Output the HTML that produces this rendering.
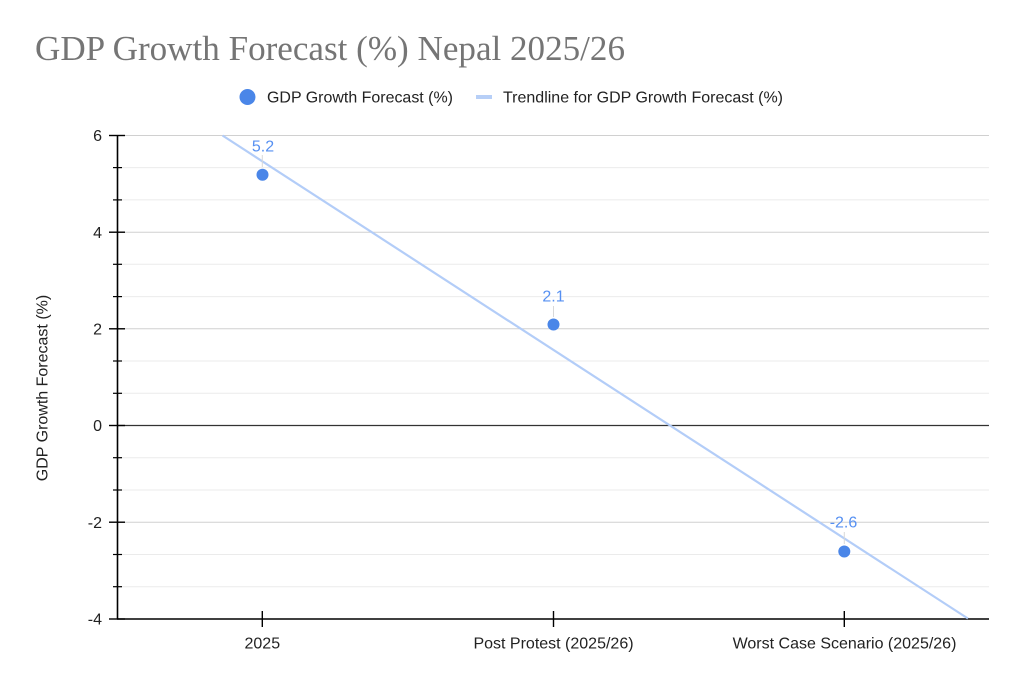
<!DOCTYPE html>
<html><head><meta charset="utf-8"><style>
html,body{margin:0;padding:0;background:#fff;}
svg{display:block;}
text{font-family:"Liberation Sans",Arial,sans-serif;}
</style></head><body>
<svg width="1024" height="686" viewBox="0 0 1024 686" xmlns="http://www.w3.org/2000/svg">
<rect width="1024" height="686" fill="#fff"/>
<text x="35" y="60" font-family="Liberation Serif, serif" style="font-family:'Liberation Serif',serif" font-size="35" fill="#757575" textLength="590" lengthAdjust="spacingAndGlyphs">GDP Growth Forecast (%) Nepal 2025/26</text>
<!-- legend -->
<circle cx="247.5" cy="97" r="8" fill="#4a86e8"/>
<text x="267" y="102.5" font-size="16" fill="#222" textLength="186" lengthAdjust="spacingAndGlyphs">GDP Growth Forecast (%)</text>
<rect x="476" y="95" width="16" height="4" fill="#b7cff7"/>
<text x="503" y="102.5" font-size="16" fill="#222" textLength="280" lengthAdjust="spacingAndGlyphs">Trendline for GDP Growth Forecast (%)</text>
<!-- minor gridlines -->
<g stroke="#ebebeb" stroke-width="1">
<line x1="118" x2="989" y1="586.7" y2="586.7"/>
<line x1="118" x2="989" y1="554.5" y2="554.5"/>
<line x1="118" x2="989" y1="490.0" y2="490.0"/>
<line x1="118" x2="989" y1="457.7" y2="457.7"/>
<line x1="118" x2="989" y1="393.3" y2="393.3"/>
<line x1="118" x2="989" y1="361.0" y2="361.0"/>
<line x1="118" x2="989" y1="296.6" y2="296.6"/>
<line x1="118" x2="989" y1="264.3" y2="264.3"/>
<line x1="118" x2="989" y1="199.9" y2="199.9"/>
<line x1="118" x2="989" y1="167.6" y2="167.6"/>
</g>
<!-- major gridlines -->
<g stroke="#d0d0d0" stroke-width="1">
<line x1="118" x2="989" y1="135.5" y2="135.5"/>
<line x1="118" x2="989" y1="232.2" y2="232.2"/>
<line x1="118" x2="989" y1="328.8" y2="328.8"/>
<line x1="118" x2="989" y1="522.2" y2="522.2"/>
</g>
<!-- zero line -->
<line x1="118" x2="989" y1="425.5" y2="425.5" stroke="#333" stroke-width="1.3"/>
<!-- axes -->
<line x1="117.5" x2="117.5" y1="135" y2="619.5" stroke="#000" stroke-width="1.6"/>
<line x1="117" x2="989" y1="619" y2="619" stroke="#000" stroke-width="1.6"/>
<!-- major ticks -->
<g stroke="#000" stroke-width="1.4">
<line x1="109" x2="125" y1="135.5" y2="135.5"/>
<line x1="109" x2="125" y1="232.2" y2="232.2"/>
<line x1="109" x2="125" y1="328.8" y2="328.8"/>
<line x1="109" x2="125" y1="425.5" y2="425.5"/>
<line x1="109" x2="125" y1="522.2" y2="522.2"/>
<line x1="109" x2="125" y1="619" y2="619"/>
</g>
<!-- minor ticks -->
<g stroke="#000" stroke-width="1.2">
<line x1="113" x2="122" y1="586.7" y2="586.7"/>
<line x1="113" x2="122" y1="554.5" y2="554.5"/>
<line x1="113" x2="122" y1="490.0" y2="490.0"/>
<line x1="113" x2="122" y1="457.7" y2="457.7"/>
<line x1="113" x2="122" y1="393.3" y2="393.3"/>
<line x1="113" x2="122" y1="361.0" y2="361.0"/>
<line x1="113" x2="122" y1="296.6" y2="296.6"/>
<line x1="113" x2="122" y1="264.3" y2="264.3"/>
<line x1="113" x2="122" y1="199.9" y2="199.9"/>
<line x1="113" x2="122" y1="167.6" y2="167.6"/>
</g>
<!-- x ticks -->
<g stroke="#000" stroke-width="1.4">
<line x1="262.3" x2="262.3" y1="611" y2="627"/>
<line x1="553.5" x2="553.5" y1="611" y2="627"/>
<line x1="844.3" x2="844.3" y1="611" y2="627"/>
</g>
<!-- y tick labels -->
<g font-size="16" fill="#222" text-anchor="end">
<text x="102" y="141">6</text>
<text x="102" y="238">4</text>
<text x="102" y="334.5">2</text>
<text x="102" y="431">0</text>
<text x="102" y="528">-2</text>
<text x="102" y="624.5">-4</text>
</g>
<!-- x labels -->
<g font-size="16" fill="#222" text-anchor="middle">
<text x="262.3" y="648.5">2025</text>
<text x="553.5" y="648.5">Post Protest (2025/26)</text>
<text x="844.5" y="648.5">Worst Case Scenario (2025/26)</text>
</g>
<!-- y title -->
<text transform="translate(47.5,388) rotate(-90)" font-size="16" fill="#222" text-anchor="middle">GDP Growth Forecast (%)</text>
<!-- trendline -->
<line x1="222.5" y1="135.5" x2="967.9" y2="618.5" stroke="#b3cdf8" stroke-width="2.2"/>
<!-- stems -->
<g stroke="#d8d8d8" stroke-width="1">
<line x1="262.3" x2="262.3" y1="155" y2="167"/>
<line x1="553.5" x2="553.5" y1="306" y2="317"/>
<line x1="844.3" x2="844.3" y1="532" y2="544"/>
</g>
<!-- points -->
<g fill="#4a86e8">
<circle cx="262.5" cy="174.8" r="6"/>
<circle cx="553.5" cy="324.5" r="6"/>
<circle cx="844.3" cy="551.5" r="6"/>
</g>
<!-- data labels -->
<g font-size="16" fill="#5690f2" text-anchor="middle">
<text x="263" y="151.5">5.2</text>
<text x="553.5" y="301.5">2.1</text>
<text x="843.5" y="527.5">-2.6</text>
</g>
</svg>
</body></html>
